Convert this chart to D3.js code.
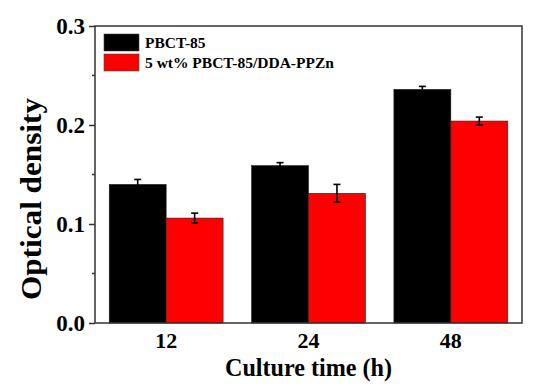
<!DOCTYPE html>
<html>
<head>
<meta charset="utf-8">
<script src="https://cdn.jsdelivr.net/npm/d3@7"></script>
<style>
  body { margin: 0; background: #fff; }
  text { font-family: "Liberation Serif", "Times New Roman", serif; font-weight: bold; }
</style>
</head>
<body>
<div id="chart"></div>
<script>
const categories = ["12", "24", "48"];
const seriesNames = ["PBCT-85", "5 wt% PBCT-85/DDA-PPZn"];
const pbctValues = [0.140, 0.159, 0.236];
const pbctErrors = [0.005, 0.003, 0.003];
const compValues = [0.106, 0.131, 0.204];
const compErrors = [0.005, 0.009, 0.004];
const yTicks = [0.0, 0.1, 0.2, 0.3];
const colors = ["#000000", "#ff0000"];

let svgWidth = 550,
  svgHeight = 388,
  margin = { top: 26, right: 28, bottom: 65, left: 95 },
  width = svgWidth - margin.left - margin.right,
  height = svgHeight - margin.top - margin.bottom;

const svg = d3.select("#chart")
  .append("svg")
  .attr("width", svgWidth)
  .attr("height", svgHeight);

const g = svg.append("g")
  .attr("transform", "translate(" + margin.left + "," + margin.top + ")");

let x0 = d3.scaleBand().domain(categories).range([0, width]).paddingInner(0.2).paddingOuter(0.1),
  x1 = d3.scaleBand().domain([0, 1]).range([0, x0.bandwidth()]),
  y = d3.scaleLinear().domain([0, 0.3]).range([height, 0]);

// bars
const rows = categories.map((c, i) => ({
  cat: c,
  vals: [
    { s: 0, v: pbctValues[i], e: pbctErrors[i] },
    { s: 1, v: compValues[i], e: compErrors[i] }
  ]
}));

const groups = g.selectAll(".group")
  .data(rows)
  .enter()
  .append("g")
  .attr("class", "group")
  .attr("transform", d => "translate(" + x0(d.cat) + ",0)");

groups.selectAll("rect")
  .data(d => d.vals)
  .enter()
  .append("rect")
  .attr("x", d => x1(d.s))
  .attr("y", d => y(d.v))
  .attr("width", x1.bandwidth())
  .attr("height", d => height - y(d.v))
  .attr("fill", d => colors[d.s])
  .attr("stroke", "#222")
  .attr("stroke-width", 0.6);

// error bars
const err = groups.selectAll(".err")
  .data(d => d.vals)
  .enter()
  .append("g")
  .attr("class", "err")
  .attr("stroke", "#000")
  .attr("stroke-width", 1.6);

err.append("line")
  .attr("x1", d => x1(d.s) + x1.bandwidth() / 2)
  .attr("x2", d => x1(d.s) + x1.bandwidth() / 2)
  .attr("y1", d => y(d.v + d.e))
  .attr("y2", d => y(d.v - d.e));

[1, -1].forEach(sign => {
  err.append("line")
    .attr("x1", d => x1(d.s) + x1.bandwidth() / 2 - 3.5)
    .attr("x2", d => x1(d.s) + x1.bandwidth() / 2 + 3.5)
    .attr("y1", d => y(d.v + sign * d.e))
    .attr("y2", d => y(d.v + sign * d.e));
});

// frame
g.append("rect")
  .attr("width", width)
  .attr("height", height)
  .attr("fill", "none")
  .attr("stroke", "#333")
  .attr("stroke-width", 1.5);

// y axis
const yAxis = g.append("g")
  .call(d3.axisLeft(y).tickValues(yTicks).tickFormat(d3.format(".1f")).tickSize(6).tickPadding(4));
yAxis.select(".domain").remove();
yAxis.selectAll("line").attr("stroke", "#333").attr("stroke-width", 1.5);
yAxis.selectAll("text").attr("font-size", 23).attr("fill", "#000");

// minor ticks
g.append("g")
  .selectAll("line")
  .data([0.05, 0.15, 0.25])
  .enter()
  .append("line")
  .attr("x1", -3)
  .attr("x2", 0)
  .attr("y1", d => y(d))
  .attr("y2", d => y(d))
  .attr("stroke", "#333")
  .attr("stroke-width", 1.5);

// x axis labels
const xAxis = g.append("g")
  .attr("transform", "translate(0," + height + ")")
  .call(d3.axisBottom(x0).tickSize(0).tickPadding(9));
xAxis.select(".domain").remove();
xAxis.selectAll("text").attr("font-size", 22).attr("fill", "#000");

// axis titles
svg.append("text")
  .attr("x", 225)
  .attr("y", 376)
  .attr("font-size", 26)
  .attr("textLength", 167)
  .attr("lengthAdjust", "spacingAndGlyphs")
  .text("Culture time (h)");

svg.append("text")
  .attr("transform", "translate(41,300) rotate(-90)")
  .attr("font-size", 30)
  .attr("textLength", 202)
  .attr("lengthAdjust", "spacingAndGlyphs")
  .text("Optical density");

// legend
const legend = g.append("g").attr("transform", "translate(9,8)");
seriesNames.forEach((name, i) => {
  legend.append("rect")
    .attr("x", 0)
    .attr("y", i * 20)
    .attr("width", 35)
    .attr("height", 17)
    .attr("fill", colors[i])
    .attr("stroke", "#444")
    .attr("stroke-width", 0.6);
  legend.append("text")
    .attr("x", 41)
    .attr("y", i * 20 + 14)
    .attr("font-size", 15.5)
    .text(name);
});
</script>
</body>
</html>
